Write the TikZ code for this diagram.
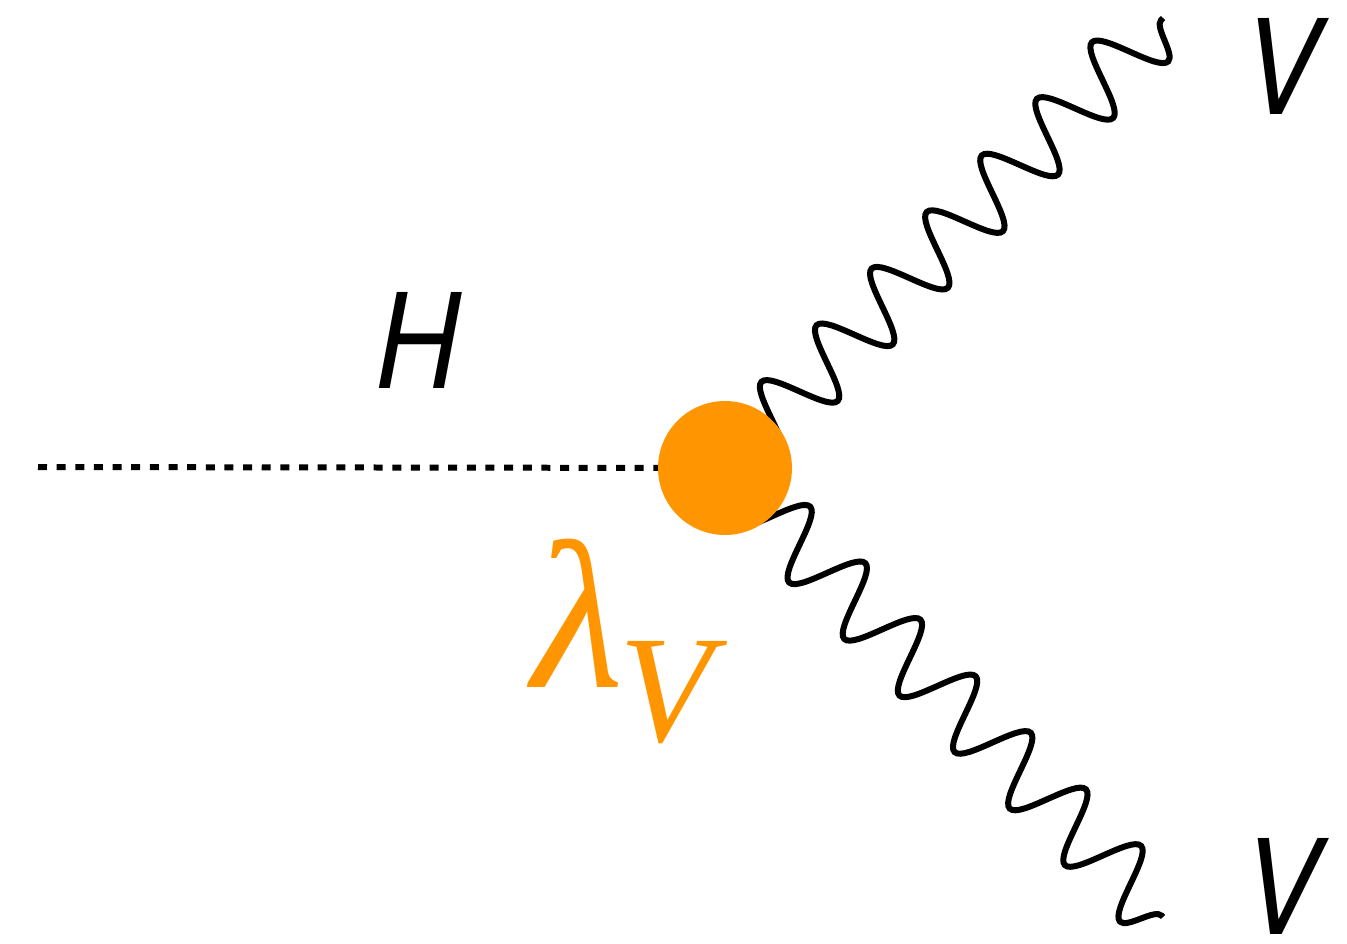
\documentclass[tikz,border=0pt]{standalone}
\usepackage{fontspec}
\setsansfont{TeX Gyre Heros}
\newfontfamily\couplingfont{Liberation Serif}
\usetikzlibrary{decorations.pathmorphing}
\definecolor{couplingOrange}{RGB}{255,149,0}

\begin{document}
\begin{tikzpicture}[
  x=0.02cm,y=-0.02cm,
  higgs/.style={line width=0.12cm, dash pattern=on 0.18cm off 0.193cm},
  vboson/.style={
    line width=0.12cm,
    decorate,
    decoration={snake, amplitude=-0.68cm, segment length=1.58cm, pre length=0.46cm}
  },
  blob/.style={circle, fill=couplingOrange, minimum size=2.68cm, inner sep=0pt},
  partname/.style={font=\fontsize{75}{75}\selectfont\sffamily\itshape, inner sep=0pt}
]
  \useasboundingbox (0,0) rectangle (1347,944);
  \coordinate (hin) at (38,467);
  \coordinate (vtx) at (725,468);
  \coordinate (vup) at (1163,18);
  \coordinate (vdown) at (1163,917);
  \draw[higgs] (hin) -- (vtx);
  \draw[vboson] (vtx) -- (vup);
  \draw[vboson] (vtx) -- (vdown);
  \node[blob] (vertex) at (vtx) {};
  \node[partname] (hlabel) at (417,340) {\scalebox{0.88}[1]{H}};
  \node[partname] (vuplabel) at (1281,66) {\scalebox{0.88}[1]{V}};
  \node[partname] (vdownlabel) at (1281,886) {\scalebox{0.88}[1]{V}};
  \node[anchor=base west, inner sep=0pt, text=couplingOrange,
    font=\fontsize{120}{120}\selectfont\couplingfont\itshape] (lambda) at (532,687)
    {λ\kern-0.09cm\raisebox{-1.1cm}{\fontsize{87}{87}\selectfont V}};
\end{tikzpicture}
\end{document}
